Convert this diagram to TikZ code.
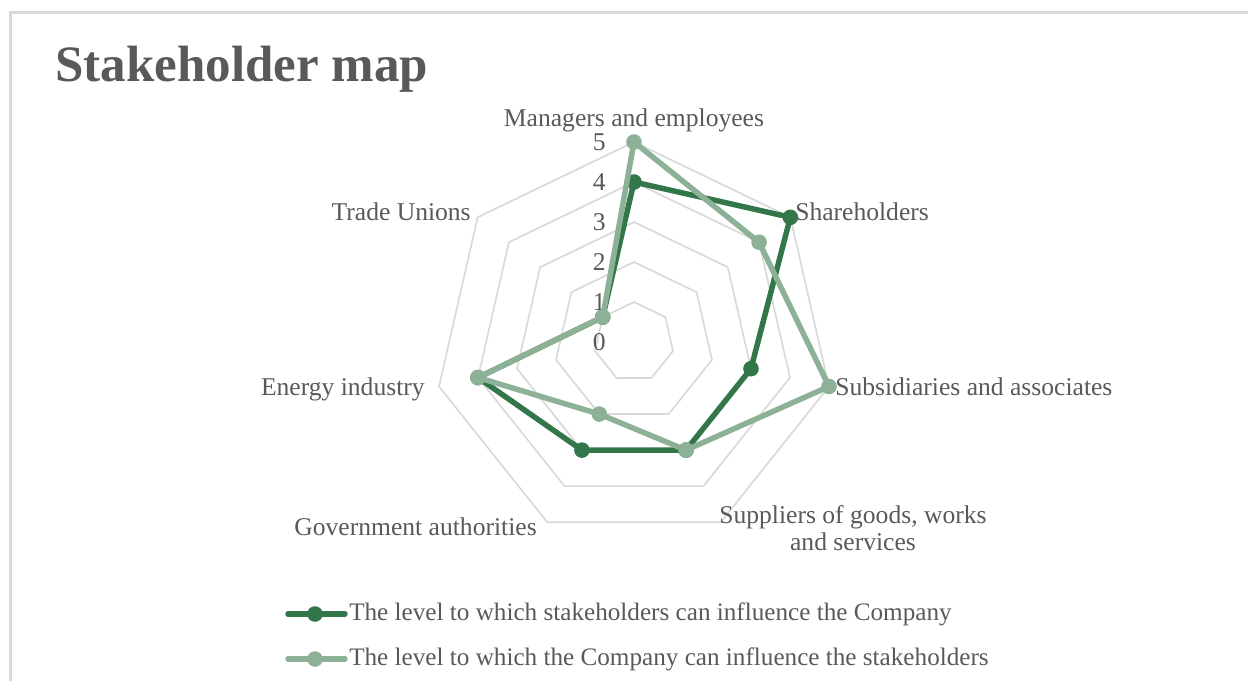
\documentclass[tikz,border=0pt]{standalone}
\usepackage{fontspec}
\setmainfont{Liberation Serif}
\usetikzlibrary{%
  positioning,% wg. " of "
  calc%
}
\definecolor{txtgray}{HTML}{595959}
\definecolor{gridgray}{HTML}{D9D9D9}
\definecolor{darkgreen}{HTML}{32764A}
\definecolor{lightgreen}{HTML}{8CB197}

\begin{document}
\begin{tikzpicture}
  [
  font=\fontsize{18.2}{19.2}\selectfont, text=txtgray,
  grid/.style={draw=gridgray, line width=1.2pt, line join=round},
  frameline/.style={draw=gridgray, line width=1.6pt},
  darkline/.style={draw=darkgreen, line width=3.9pt, line join=round, line cap=round},
  lightline/.style={draw=lightgreen, line width=3.9pt, line join=round, line cap=round},
  darkdot/.style={circle, inner sep=0pt, minimum size=3.9mm, fill=darkgreen},
  lightdot/.style={circle, inner sep=0pt, minimum size=3.9mm, fill=lightgreen},
  axislabel/.style={inner sep=0pt},
  tick/.style={inner sep=0pt, anchor=east},
  legendtext/.style={anchor=west, inner sep=0pt, font=\fontsize{17.9}{19}\selectfont},
  ]

  \useasboundingbox (-15.85,-8.475) rectangle (15.35,8.55);

  % frame
  \coordinate (fbl) at (-15.5875,-8.475);
  \coordinate (ftl) at (-15.5875,8.2375);
  \coordinate (ftr) at (15.35,8.2375);
  \draw[frameline] (fbl) -- (ftl) -- (ftr);

  \node[anchor=base west, inner sep=0pt] (title) at (-14.475,6.5)
    {\fontsize{36.3}{40}\selectfont\bfseries Stakeholder map};

  % grid
  \draw[grid] (90:1) -- (38.571:1) -- (-12.857:1) -- (-64.286:1) -- (-115.714:1) -- (-167.143:1) -- (141.429:1) -- cycle;
  \draw[grid] (90:2) -- (38.571:2) -- (-12.857:2) -- (-64.286:2) -- (-115.714:2) -- (-167.143:2) -- (141.429:2) -- cycle;
  \draw[grid] (90:3) -- (38.571:3) -- (-12.857:3) -- (-64.286:3) -- (-115.714:3) -- (-167.143:3) -- (141.429:3) -- cycle;
  \draw[grid] (90:4) -- (38.571:4) -- (-12.857:4) -- (-64.286:4) -- (-115.714:4) -- (-167.143:4) -- (141.429:4) -- cycle;
  \draw[grid] (90:5) -- (38.571:5) -- (-12.857:5) -- (-64.286:5) -- (-115.714:5) -- (-167.143:5) -- (141.429:5) -- cycle;

  \node[tick] (t0) at (-0.7,0) {0};
  \node[tick] (t1) at (-0.7,1) {1};
  \node[tick] (t2) at (-0.7,2) {2};
  \node[tick] (t3) at (-0.7,3) {3};
  \node[tick] (t4) at (-0.7,4) {4};
  \node[tick] (t5) at (-0.7,5) {5};

  % axis labels
  \node[axislabel, anchor=base] (managers) at (0,5.375) {Managers and employees};
  \node[axislabel, anchor=base west] (share) at (4.025,3.05) {Shareholders};
  \node[axislabel, anchor=base west] (subs) at (5.025,-1.325) {Subsidiaries and associates};
  \node[axislabel, align=center] (suppl) at (5.475,-4.65) {Suppliers of goods, works\\and services};
  \node[axislabel, anchor=base east] (gov) at (-2.425,-4.825) {Government authorities};
  \node[axislabel, anchor=base east] (energy) at (-5.225,-1.325) {Energy industry};
  \node[axislabel, anchor=base east] (unions) at (-4.075,3.05) {Trade Unions};

  % stakeholders -> company
  \coordinate (a1) at (90:4);
  \coordinate (a2) at (38.571:5);
  \coordinate (a3) at (-12.857:3);
  \coordinate (a4) at (-64.286:3);
  \coordinate (a5) at (-115.714:3);
  \coordinate (a6) at (-167.143:4);
  \coordinate (a7) at (141.429:1);
  \draw[darkline] (a1) -- (a2) -- (a3) -- (a4) -- (a5) -- (a6) -- (a7) -- cycle;
  \node[darkdot] (a1m) at (a1) {};
  \node[darkdot] (a2m) at (a2) {};
  \node[darkdot] (a3m) at (a3) {};
  \node[darkdot] (a4m) at (a4) {};
  \node[darkdot] (a5m) at (a5) {};
  \node[darkdot] (a6m) at (a6) {};
  \node[darkdot] (a7m) at (a7) {};

  % company -> stakeholders
  \coordinate (b1) at (90:5);
  \coordinate (b2) at (38.571:4);
  \coordinate (b3) at (-12.857:5);
  \coordinate (b4) at (-64.286:3);
  \coordinate (b5) at (-115.714:2);
  \coordinate (b6) at (-167.143:4);
  \coordinate (b7) at (141.429:1);
  \draw[lightline] (b1) -- (b2) -- (b3) -- (b4) -- (b5) -- (b6) -- (b7) -- cycle;
  \node[lightdot] (b1m) at (b1) {};
  \node[lightdot] (b2m) at (b2) {};
  \node[lightdot] (b3m) at (b3) {};
  \node[lightdot] (b4m) at (b4) {};
  \node[lightdot] (b5m) at (b5) {};
  \node[lightdot] (b6m) at (b6) {};
  \node[lightdot] (b7m) at (b7) {};

  % legend
  \coordinate (la1) at (-8.65,-6.8);
  \coordinate (la2) at (-7.225,-6.8);
  \draw[darkline] (la1) -- (la2);
  \node[darkdot] (lam) at (-7.975,-6.8) {};
  \node[legendtext] (latext) at (-7.125,-6.8)
    {The level to which stakeholders can influence the Company};

  \coordinate (lb1) at (-8.65,-7.925);
  \coordinate (lb2) at (-7.225,-7.925);
  \draw[lightline] (lb1) -- (lb2);
  \node[lightdot] (lbm) at (-7.975,-7.925) {};
  \node[legendtext] (lbtext) at (-7.125,-7.925)
    {The level to which the Company can influence the stakeholders};
\end{tikzpicture}
\end{document}
